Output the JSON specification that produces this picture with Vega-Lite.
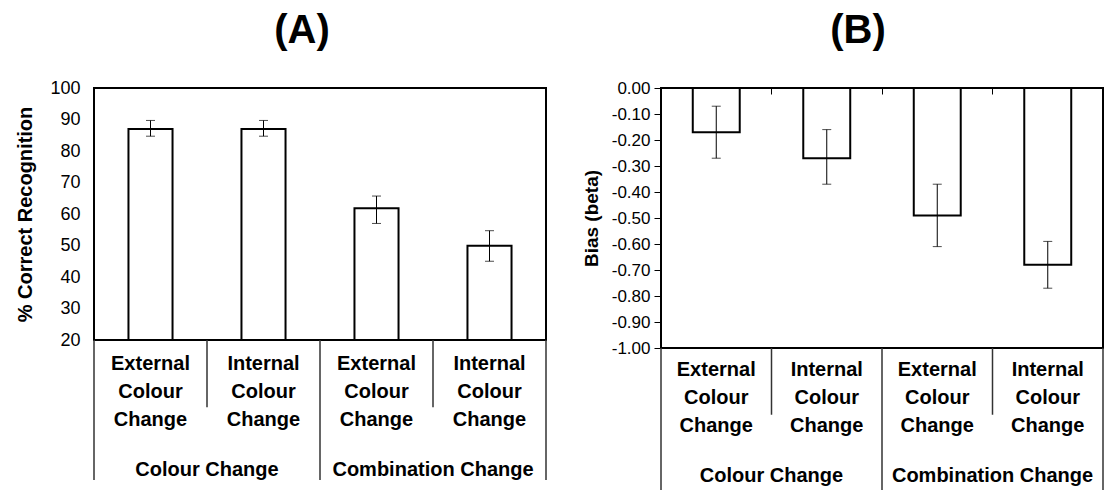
{
  "$schema": "https://vega.github.io/schema/vega-lite/v6.json",
  "description": "Recognition and bias by colour / combination change",
  "padding": {"left": 14, "top": 10, "right": 0, "bottom": 0},
  "background": "white",
  "config": {
    "font": "Liberation Sans",
    "view": {"stroke": "black", "strokeWidth": 2},
    "concat": {"spacing": 30}
  },
  "datasets": {
    "a": [
      {"key": "CC-ext", "group": "Colour Change", "cond": "External", "label": "External Colour Change", "value": 87, "lo": 84.7, "hi": 89.7},
      {"key": "CC-int", "group": "Colour Change", "cond": "Internal", "label": "Internal Colour Change", "value": 87, "lo": 84.7, "hi": 89.7},
      {"key": "CB-ext", "group": "Combination Change", "cond": "External", "label": "External Colour Change", "value": 61.8, "lo": 57, "hi": 65.7},
      {"key": "CB-int", "group": "Combination Change", "cond": "Internal", "label": "Internal Colour Change", "value": 49.9, "lo": 45, "hi": 54.7}
    ],
    "b": [
      {"key": "CC-ext", "group": "Colour Change", "cond": "External", "label": "External Colour Change", "value": -0.17, "lo": -0.27, "hi": -0.07},
      {"key": "CC-int", "group": "Colour Change", "cond": "Internal", "label": "Internal Colour Change", "value": -0.27, "lo": -0.37, "hi": -0.16},
      {"key": "CB-ext", "group": "Combination Change", "cond": "External", "label": "External Colour Change", "value": -0.49, "lo": -0.61, "hi": -0.37},
      {"key": "CB-int", "group": "Combination Change", "cond": "Internal", "label": "Internal Colour Change", "value": -0.68, "lo": -0.77, "hi": -0.59}
    ],
    "groups": [
      {"group": "Colour Change"},
      {"group": "Combination Change"}
    ]
  },
  "spacing": 34,
  "hconcat": [
    {
      "spacing": 0,
      "bounds": "flush",
      "vconcat": [
        {
          "width": 452,
          "height": 252,
          "title": {"text": "(A)", "fontSize": 40, "fontWeight": "bold", "color": "black", "anchor": "middle", "frame": "group", "dx": -18, "offset": 28},
          "data": {"name": "a"},
          "encoding": {
            "x": {"field": "key", "type": "nominal", "scale": {"domain": ["CC-ext", "CC-int", "CB-ext", "CB-int"], "paddingInner": 0, "paddingOuter": 0}, "axis": null}
          },
          "layer": [
            {
              "mark": {"type": "bar", "width": {"band": 0.39}, "fill": "white", "stroke": "black", "strokeWidth": 2},
              "encoding": {
                "y": {
                  "field": "value", "type": "quantitative",
                  "scale": {"domain": [20, 100], "zero": false, "nice": false},
                  "axis": {
                    "title": "% Correct Recognition", "titleFontSize": 20, "titleFontWeight": "bold", "titleColor": "black", "titlePadding": 14,
                    "values": [20, 30, 40, 50, 60, 70, 80, 90, 100],
                    "labelFontSize": 18, "labelColor": "black", "labelPadding": 14, "labelOverlap": false,
                    "ticks": false, "domain": false, "grid": false
                  }
                },
                "y2": {"datum": 20}
              }
            },
            {
              "mark": {"type": "rule", "color": "black", "strokeWidth": 1},
              "encoding": {
                "y": {
                  "field": "lo", "type": "quantitative",
                  "axis": {
                    "title": "% Correct Recognition", "titleFontSize": 20, "titleFontWeight": "bold", "titleColor": "black", "titlePadding": 14,
                    "values": [20, 30, 40, 50, 60, 70, 80, 90, 100],
                    "labelFontSize": 18, "labelColor": "black", "labelPadding": 14, "labelOverlap": false,
                    "ticks": false, "domain": false, "grid": false
                  }
                },
                "y2": {"field": "hi"}
              }
            },
            {
              "mark": {"type": "tick", "orient": "horizontal", "size": 9, "thickness": 1, "color": "black"},
              "encoding": {
                "y": {
                  "field": "lo", "type": "quantitative",
                  "axis": {
                    "title": "% Correct Recognition", "titleFontSize": 20, "titleFontWeight": "bold", "titleColor": "black", "titlePadding": 14,
                    "values": [20, 30, 40, 50, 60, 70, 80, 90, 100],
                    "labelFontSize": 18, "labelColor": "black", "labelPadding": 14, "labelOverlap": false,
                    "ticks": false, "domain": false, "grid": false
                  }
                }
              }
            },
            {
              "mark": {"type": "tick", "orient": "horizontal", "size": 9, "thickness": 1, "color": "black"},
              "encoding": {
                "y": {
                  "field": "hi", "type": "quantitative",
                  "axis": {
                    "title": "% Correct Recognition", "titleFontSize": 20, "titleFontWeight": "bold", "titleColor": "black", "titlePadding": 14,
                    "values": [20, 30, 40, 50, 60, 70, 80, 90, 100],
                    "labelFontSize": 18, "labelColor": "black", "labelPadding": 14, "labelOverlap": false,
                    "ticks": false, "domain": false, "grid": false
                  }
                }
              }
            }
          ]
        },
        {
          "width": 452,
          "height": 140,
          "view": {"stroke": null},
          "layer": [
            {
              "data": {"name": "a"},
              "mark": {"type": "text", "lineBreak": " ", "lineHeight": 28, "fontSize": 20, "fontWeight": "bold", "baseline": "top", "align": "center", "color": "black"},
              "encoding": {
                "x": {"field": "key", "type": "nominal", "scale": {"domain": ["CC-ext", "CC-int", "CB-ext", "CB-int"], "paddingInner": 0, "paddingOuter": 0}, "axis": null},
                "y": {"datum": 1.0, "type": "quantitative", "scale": {"domain": [0, 10], "reverse": true, "nice": false}, "axis": null},
                "text": {"field": "label"}
              }
            },
            {
              "data": {"name": "a"},
              "transform": [{"filter": "datum.cond == 'External'"}],
              "mark": {"type": "rule", "color": "#333", "strokeWidth": 1.5},
              "encoding": {
                "x": {"field": "key", "type": "nominal", "bandPosition": 0, "scale": {"domain": ["CC-ext", "CC-int", "CB-ext", "CB-int"], "paddingInner": 0, "paddingOuter": 0}, "axis": null}
              }
            },
            {
              "data": {"name": "a"},
              "transform": [{"filter": "datum.group == 'Combination Change' && datum.cond == 'Internal'"}],
              "mark": {"type": "rule", "color": "#333", "strokeWidth": 1.5},
              "encoding": {
                "x": {"field": "key", "type": "nominal", "bandPosition": 1, "scale": {"domain": ["CC-ext", "CC-int", "CB-ext", "CB-int"], "paddingInner": 0, "paddingOuter": 0}, "axis": null}
              }
            },
            {
              "data": {"name": "a"},
              "transform": [{"filter": "datum.cond == 'Internal'"}],
              "mark": {"type": "rule", "color": "#333", "strokeWidth": 1.5},
              "encoding": {
                "x": {"field": "key", "type": "nominal", "bandPosition": 0, "scale": {"domain": ["CC-ext", "CC-int", "CB-ext", "CB-int"], "paddingInner": 0, "paddingOuter": 0}, "axis": null},
                "y": {"datum": 0, "type": "quantitative"},
                "y2": {"datum": 4.8}
              }
            },
            {
              "data": {"name": "groups"},
              "mark": {"type": "text", "fontSize": 20, "fontWeight": "bold", "baseline": "middle", "align": "center", "color": "black"},
              "encoding": {
                "x": {"field": "group", "type": "nominal", "scale": {"domain": ["Colour Change", "Combination Change"], "paddingInner": 0, "paddingOuter": 0}, "axis": null},
                "y": {"datum": 9.29, "type": "quantitative"},
                "text": {"field": "group"}
              }
            }
          ],
          "resolve": {"scale": {"x": "independent"}}
        }
      ]
    },
    {
      "spacing": 0,
      "bounds": "flush",
      "vconcat": [
        {
          "width": 442,
          "height": 260,
          "title": {"text": "(B)", "fontSize": 40, "fontWeight": "bold", "color": "black", "anchor": "middle", "frame": "group", "dx": -24, "offset": 28},
          "data": {"name": "b"},
          "encoding": {
            "x": {
              "field": "key", "type": "nominal",
              "scale": {"domain": ["CC-ext", "CC-int", "CB-ext", "CB-int"], "paddingInner": 0, "paddingOuter": 0},
              "axis": {"orient": "top", "labels": false, "title": null, "domain": false, "ticks": true, "tickSize": 6, "offset": -6, "tickColor": "black", "tickWidth": 1, "bandPosition": 0, "grid": false}
            }
          },
          "layer": [
            {
              "mark": {"type": "bar", "width": {"band": 0.425}, "fill": "white", "stroke": "black", "strokeWidth": 2},
              "encoding": {
                "y": {
                  "field": "value", "type": "quantitative",
                  "scale": {"domain": [-1, 0], "zero": false, "nice": false},
                  "axis": {
                    "title": "Bias (beta)", "titleFontSize": 19, "titleFontWeight": "bold", "titleColor": "black", "titlePadding": 10,
                    "values": [-1, -0.9, -0.8, -0.7, -0.6, -0.5, -0.4, -0.3, -0.2, -0.1, 0],
                    "format": ".2f",
                    "labelExpr": "replace(datum.label, '\u2212', '-')",
                    "labelFontSize": 17, "labelColor": "black", "labelPadding": 4, "labelOverlap": false,
                    "ticks": true, "tickSize": 7, "tickColor": "black", "tickWidth": 1,
                    "domain": false, "grid": false
                  }
                },
                "y2": {"datum": 0}
              }
            },
            {
              "mark": {"type": "rule", "color": "black", "strokeWidth": 1},
              "encoding": {
                "y": {
                  "field": "lo", "type": "quantitative",
                  "axis": {
                    "title": "Bias (beta)", "titleFontSize": 19, "titleFontWeight": "bold", "titleColor": "black", "titlePadding": 10,
                    "values": [-1, -0.9, -0.8, -0.7, -0.6, -0.5, -0.4, -0.3, -0.2, -0.1, 0],
                    "format": ".2f",
                    "labelExpr": "replace(datum.label, '\u2212', '-')",
                    "labelFontSize": 17, "labelColor": "black", "labelPadding": 4, "labelOverlap": false,
                    "ticks": true, "tickSize": 7, "tickColor": "black", "tickWidth": 1,
                    "domain": false, "grid": false
                  }
                },
                "y2": {"field": "hi"}
              }
            },
            {
              "mark": {"type": "tick", "orient": "horizontal", "size": 9, "thickness": 1, "color": "black"},
              "encoding": {
                "y": {
                  "field": "lo", "type": "quantitative",
                  "axis": {
                    "title": "Bias (beta)", "titleFontSize": 19, "titleFontWeight": "bold", "titleColor": "black", "titlePadding": 10,
                    "values": [-1, -0.9, -0.8, -0.7, -0.6, -0.5, -0.4, -0.3, -0.2, -0.1, 0],
                    "format": ".2f",
                    "labelExpr": "replace(datum.label, '\u2212', '-')",
                    "labelFontSize": 17, "labelColor": "black", "labelPadding": 4, "labelOverlap": false,
                    "ticks": true, "tickSize": 7, "tickColor": "black", "tickWidth": 1,
                    "domain": false, "grid": false
                  }
                }
              }
            },
            {
              "mark": {"type": "tick", "orient": "horizontal", "size": 9, "thickness": 1, "color": "black"},
              "encoding": {
                "y": {
                  "field": "hi", "type": "quantitative",
                  "axis": {
                    "title": "Bias (beta)", "titleFontSize": 19, "titleFontWeight": "bold", "titleColor": "black", "titlePadding": 10,
                    "values": [-1, -0.9, -0.8, -0.7, -0.6, -0.5, -0.4, -0.3, -0.2, -0.1, 0],
                    "format": ".2f",
                    "labelExpr": "replace(datum.label, '\u2212', '-')",
                    "labelFontSize": 17, "labelColor": "black", "labelPadding": 4, "labelOverlap": false,
                    "ticks": true, "tickSize": 7, "tickColor": "black", "tickWidth": 1,
                    "domain": false, "grid": false
                  }
                }
              }
            }
          ]
        },
        {
          "width": 442,
          "height": 142,
          "view": {"stroke": null},
          "layer": [
            {
              "data": {"name": "b"},
              "mark": {"type": "text", "lineBreak": " ", "lineHeight": 28, "fontSize": 20, "fontWeight": "bold", "baseline": "top", "align": "center", "color": "black"},
              "encoding": {
                "x": {"field": "key", "type": "nominal", "scale": {"domain": ["CC-ext", "CC-int", "CB-ext", "CB-int"], "paddingInner": 0, "paddingOuter": 0}, "axis": null},
                "y": {"datum": 0.85, "type": "quantitative", "scale": {"domain": [0, 10], "reverse": true, "nice": false}, "axis": null},
                "text": {"field": "label"}
              }
            },
            {
              "data": {"name": "b"},
              "transform": [{"filter": "datum.cond == 'External'"}],
              "mark": {"type": "rule", "color": "#333", "strokeWidth": 1.5},
              "encoding": {
                "x": {"field": "key", "type": "nominal", "bandPosition": 0, "scale": {"domain": ["CC-ext", "CC-int", "CB-ext", "CB-int"], "paddingInner": 0, "paddingOuter": 0}, "axis": null}
              }
            },
            {
              "data": {"name": "b"},
              "transform": [{"filter": "datum.group == 'Combination Change' && datum.cond == 'Internal'"}],
              "mark": {"type": "rule", "color": "#333", "strokeWidth": 1.5},
              "encoding": {
                "x": {"field": "key", "type": "nominal", "bandPosition": 1, "scale": {"domain": ["CC-ext", "CC-int", "CB-ext", "CB-int"], "paddingInner": 0, "paddingOuter": 0}, "axis": null}
              }
            },
            {
              "data": {"name": "b"},
              "transform": [{"filter": "datum.cond == 'Internal'"}],
              "mark": {"type": "rule", "color": "#333", "strokeWidth": 1.5},
              "encoding": {
                "x": {"field": "key", "type": "nominal", "bandPosition": 0, "scale": {"domain": ["CC-ext", "CC-int", "CB-ext", "CB-int"], "paddingInner": 0, "paddingOuter": 0}, "axis": null},
                "y": {"datum": 0, "type": "quantitative"},
                "y2": {"datum": 4.7}
              }
            },
            {
              "data": {"name": "groups"},
              "mark": {"type": "text", "fontSize": 20, "fontWeight": "bold", "baseline": "middle", "align": "center", "color": "black"},
              "encoding": {
                "x": {"field": "group", "type": "nominal", "scale": {"domain": ["Colour Change", "Combination Change"], "paddingInner": 0, "paddingOuter": 0}, "axis": null},
                "y": {"datum": 9.0, "type": "quantitative"},
                "text": {"field": "group"}
              }
            }
          ],
          "resolve": {"scale": {"x": "independent"}}
        }
      ]
    }
  ]
}
